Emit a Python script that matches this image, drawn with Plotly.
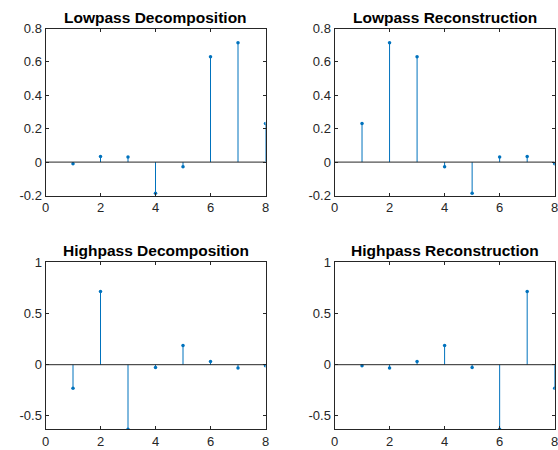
import plotly.graph_objects as go

n = [1, 2, 3, 4, 5, 6, 7, 8]
lo_d = [-0.0106, 0.0329, 0.0308, -0.1870, -0.0280, 0.6309, 0.7148, 0.2304]
lo_r = [0.2304, 0.7148, 0.6309, -0.0280, -0.1870, 0.0308, 0.0329, -0.0106]
hi_d = [-0.2304, 0.7148, -0.6309, -0.0280, 0.1870, 0.0308, -0.0329, -0.0106]
hi_r = [-0.0106, -0.0329, 0.0308, 0.1870, -0.0280, -0.6309, 0.7148, -0.2304]
titles = ["Lowpass Decomposition", "Lowpass Reconstruction",
          "Highpass Decomposition", "Highpass Reconstruction"]
x_ticks = [0, 2, 4, 6, 8]
y_ticks_top = [-0.2, 0, 0.2, 0.4, 0.6, 0.8]
y_text_top = ["-0.2", "0", "0.2", "0.4", "0.6", "0.8"]
y_ticks_bot = [-0.5, 0, 0.5, 1]
y_text_bot = ["-0.5", "0", "0.5", "1"]

W, H = 558, 450
STEM = "#0072BD"
AX = "#262626"
FONT = "Liberation Sans, Arial, sans-serif"

panels = [
    (lo_d, (45.5, 265.5), (28.5, 195.5), [-0.2, 0.8], y_ticks_top, y_text_top, 17.8),
    (lo_r, (334.5, 554.7), (28.5, 195.5), [-0.2, 0.8], y_ticks_top, y_text_top, 17.8),
    (hi_d, (45.5, 265.5), (262.3, 429.3), [min(hi_d), 1], y_ticks_bot, y_text_bot, 250.5),
    (hi_r, (334.5, 554.7), (262.3, 429.3), [min(hi_r), 1], y_ticks_bot, y_text_bot, 250.5),
]

fig = go.Figure()
layout = {}
annotations = []
shapes = []
for i, (vals, (x0, x1), (y0, y1), yr, yt, ytt, ty) in enumerate(panels):
    k = "" if i == 0 else str(i + 1)
    xa, ya = "x" + k, "y" + k
    sx, sy = [], []
    for xv, yv in zip(n, vals):
        sx += [xv, xv, None]
        sy += [0, yv, None]
    fig.add_trace(go.Scatter(x=sx, y=sy, mode="lines", line=dict(color=STEM, width=1),
                             xaxis=xa, yaxis=ya, showlegend=False, hoverinfo="skip"))
    fig.add_trace(go.Scatter(x=n, y=vals, mode="markers",
                             marker=dict(color=STEM, size=3.5),
                             xaxis=xa, yaxis=ya, showlegend=False))
    shapes.append(dict(type="line", xref=xa, yref=ya, x0=0, x1=8, y0=0, y1=0,
                       line=dict(color=AX, width=1)))
    common = dict(showgrid=False, zeroline=False, showline=True, linecolor=AX,
                  linewidth=1, mirror="ticks", ticks="inside", ticklen=3,
                  automargin=False, ticklabeloverflow="allow",
                  tickcolor=AX, tickfont=dict(family=FONT, size=13, color=AX))
    layout["xaxis" + k] = dict(domain=[x0 / W, x1 / W], range=[0, 8],
                               tickvals=x_ticks, anchor=ya, **common)
    layout["yaxis" + k] = dict(domain=[1 - y1 / H, 1 - y0 / H], range=yr,
                               tickvals=yt, ticktext=ytt, anchor=xa, **common)
    annotations.append(dict(text="<b>" + titles[i] + "</b>", xref="paper", yref="paper",
                            x=(x0 + x1) / 2 / W, y=1 - ty / H,
                            xanchor="center", yanchor="middle", showarrow=False,
                            font=dict(family=FONT, size=15.5, color="#000000")))

fig.update_layout(width=W, height=H, margin=dict(l=0, r=0, t=0, b=0, autoexpand=False),
                  paper_bgcolor="white", plot_bgcolor="white",
                  annotations=annotations, shapes=shapes, **layout)
fig.write_html("out.html")
